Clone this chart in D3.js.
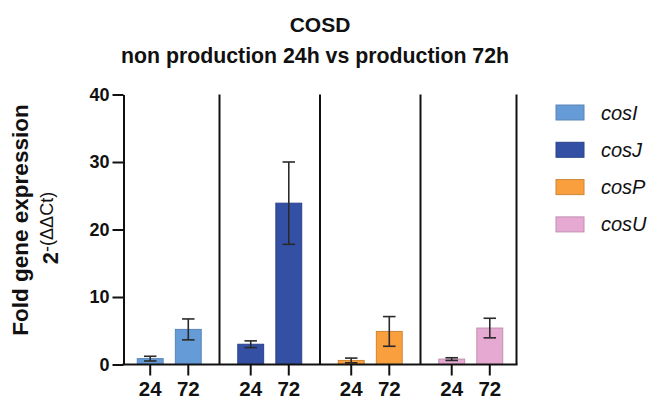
<!DOCTYPE html>
<html>
<head>
<meta charset="utf-8">
<script src="https://cdn.jsdelivr.net/npm/d3@7"></script>
<style>
  html, body { margin: 0; padding: 0; background: #fff; }
  svg { display: block; font-family: "Liberation Sans", Arial, Helvetica, sans-serif; }
</style>
</head>
<body>
<svg id="chart" width="650" height="400"></svg>
<script>
// Genes and time points
const genes = ["cosI", "cosJ", "cosP", "cosU"];
const timePoints = ["24", "72"];
// Mean fold change 2^-(ΔΔCt) for 24h and 72h, per gene
const means24 = [0.87, 3.0, 0.6, 0.8];
const means72 = [5.2, 23.9, 4.9, 5.4];
// Error (± SD) for 24h and 72h, per gene
const err24 = [0.35, 0.5, 0.35, 0.2];
const err72 = [1.55, 6.1, 2.2, 1.45];
const yTicks = [0, 10, 20, 30, 40];
const colors = ["#659bd6", "#3450a5", "#f99f3e", "#e6a9d2"];
const strokes = ["#5a86b8", "#2b428a", "#cf8434", "#c08fb0"];

const svg = d3.select("#chart");

const yTop = 94.5, yBottom = 364.5;
const y = d3.scaleLinear().domain([0, 40]).range([yBottom, yTop]);

const x0 = d3.scaleBand().domain(genes).range([119, 521]).padding(0);
const x1 = d3.scaleBand().domain(timePoints).range([0, x0.bandwidth()])
  .paddingInner(0.32).paddingOuter(0.48);

const inset = 4.5;
const axisLeft = x0.range()[0] + inset;
const axisRight = x0.range()[1] - inset;

// Flatten into rows
const rows = [];
genes.forEach((g, i) => {
  rows.push({ gene: g, t: "24", v: means24[i], e: err24[i], i });
  rows.push({ gene: g, t: "72", v: means72[i], e: err72[i], i });
});

// Bars
svg.append("g").selectAll("rect").data(rows).join("rect")
  .attr("x", d => x0(d.gene) + x1(d.t))
  .attr("y", d => y(d.v))
  .attr("width", x1.bandwidth())
  .attr("height", d => y(0) - y(d.v))
  .attr("fill", d => colors[d.i])
  .attr("stroke", d => strokes[d.i])
  .attr("stroke-width", 1);

// Error bars
const capW = 12.5;
const eb = svg.append("g").attr("stroke", "#2a2a2a").attr("stroke-width", 1.6).attr("fill", "none");
rows.forEach(d => {
  const cx = x0(d.gene) + x1(d.t) + x1.bandwidth() / 2;
  const lo = y(d.v - d.e), hi = y(d.v + d.e);
  eb.append("line").attr("x1", cx).attr("x2", cx).attr("y1", lo).attr("y2", hi);
  eb.append("line").attr("x1", cx - capW / 2).attr("x2", cx + capW / 2).attr("y1", hi).attr("y2", hi);
  eb.append("line").attr("x1", cx - capW / 2).attr("x2", cx + capW / 2).attr("y1", lo).attr("y2", lo);
});

// Panel separators and right border
const sepXs = genes.slice(1).map(g => x0(g)).concat([axisRight]);
svg.append("g").selectAll("line").data(sepXs).join("line")
  .attr("x1", d => d).attr("x2", d => d)
  .attr("y1", yTop).attr("y2", yBottom)
  .attr("stroke", "#111").attr("stroke-width", 2);

// Y axis
const yAxis = svg.append("g")
  .attr("transform", `translate(${axisLeft},0)`)
  .call(d3.axisLeft(y).tickValues(yTicks).tickSize(11).tickPadding(3).tickSizeOuter(0));
yAxis.select(".domain").attr("stroke", "#111").attr("stroke-width", 2);
yAxis.selectAll(".tick line").attr("stroke", "#111").attr("stroke-width", 2);
yAxis.selectAll(".tick text")
  .attr("fill", "#111").style("font-size", "18px").style("font-weight", "bold");

// X axis line
svg.append("line")
  .attr("x1", axisLeft - 1).attr("x2", axisRight + 1)
  .attr("y1", yBottom).attr("y2", yBottom)
  .attr("stroke", "#111").attr("stroke-width", 2);

// X ticks and labels
const xt = svg.append("g");
rows.forEach(d => {
  const cx = x0(d.gene) + x1(d.t) + x1.bandwidth() / 2;
  xt.append("line").attr("x1", cx).attr("x2", cx)
    .attr("y1", yBottom).attr("y2", yBottom + 11)
    .attr("stroke", "#111").attr("stroke-width", 2);
  xt.append("text").attr("x", cx).attr("y", 396)
    .attr("text-anchor", "middle")
    .style("font-size", "20.5px").style("font-weight", "bold").attr("fill", "#111")
    .text(d.t);
});

// Title
svg.append("text").attr("x", 320).attr("y", 32).attr("text-anchor", "middle")
  .style("font-size", "21px").style("font-weight", "bold").attr("fill", "#111")
  .text("COSD");
svg.append("text").attr("x", 315).attr("y", 63).attr("text-anchor", "middle")
  .style("font-size", "21.3px").style("font-weight", "bold").attr("fill", "#111")
  .text("non production 24h vs production 72h");

// Y axis title
const yt = svg.append("g").attr("transform", "translate(28,220) rotate(-90)");
yt.append("text").attr("x", 0).attr("y", 0).attr("text-anchor", "middle")
  .style("font-size", "22.5px").style("font-weight", "bold").attr("fill", "#111")
  .text("Fold gene expression");
const yt2 = svg.append("g").attr("transform", "translate(58,228) rotate(-90)");
const t2 = yt2.append("text").attr("x", 0).attr("y", 0).attr("text-anchor", "middle").attr("fill", "#111");
t2.append("tspan").style("font-size", "22px").style("font-weight", "bold").text("2");
t2.append("tspan").attr("dy", -5).style("font-size", "18px").style("font-weight", "normal").text("-(ΔΔCt)");

// Legend
const legend = svg.append("g");
genes.forEach((g, i) => {
  const ly = 105 + i * 37.3;
  legend.append("rect").attr("x", 556).attr("y", ly).attr("width", 28).attr("height", 15)
    .attr("fill", colors[i]).attr("stroke", strokes[i]).attr("stroke-width", 1);
  legend.append("text").attr("x", 601).attr("y", ly + 14.5)
    .style("font-size", "20px").style("font-style", "italic").attr("fill", "#111")
    .text(g);
});
</script>
</body>
</html>
